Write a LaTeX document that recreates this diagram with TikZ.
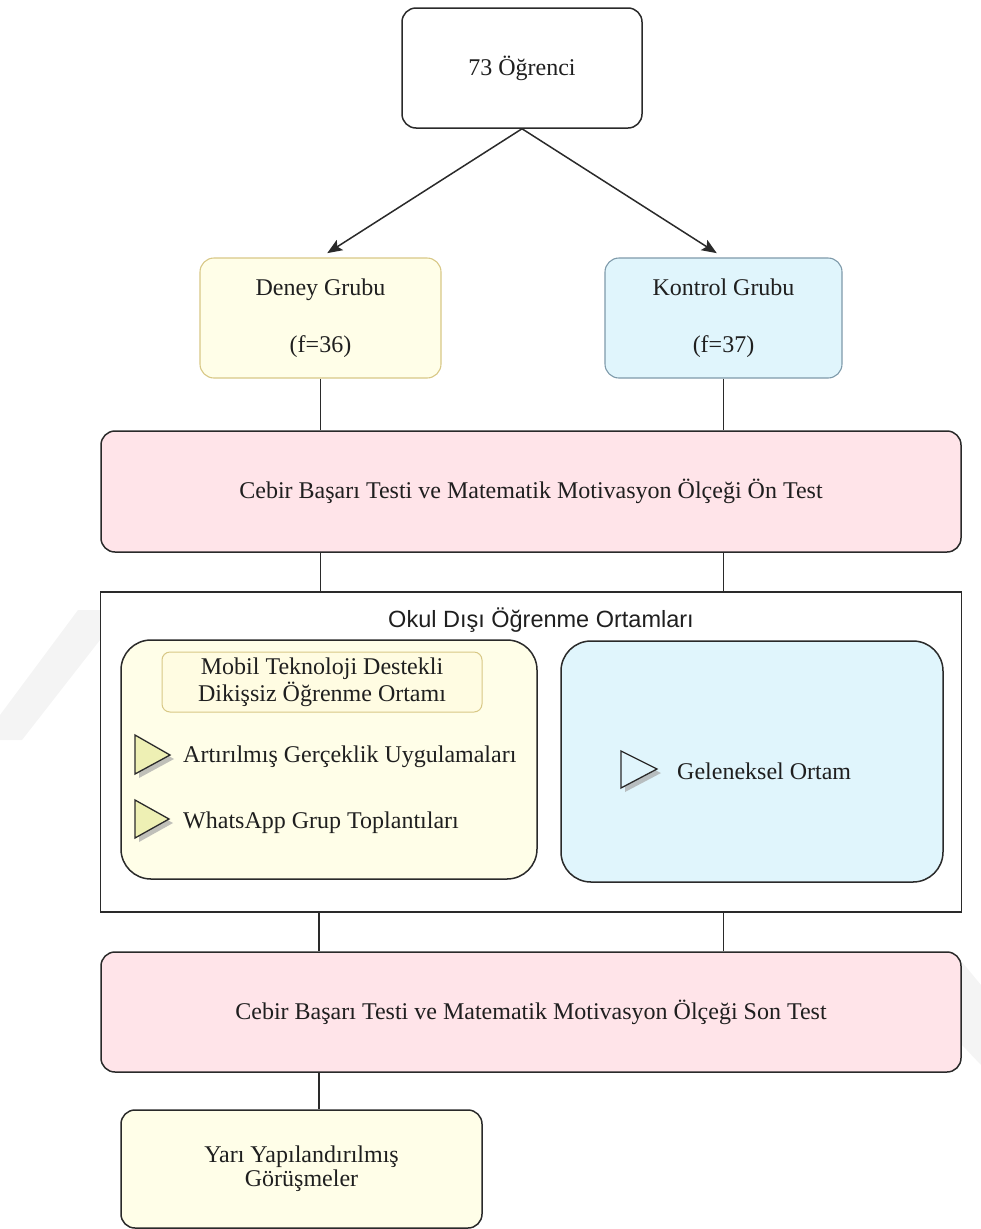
\documentclass[tikz,border=0pt]{standalone}
\usepackage{fontspec}
\setmainfont{Liberation Serif}
\newfontfamily\headfont{Liberation Sans}
\usetikzlibrary{arrows.meta}

\definecolor{ink}{HTML}{2A2A2A}
\definecolor{paleyellow}{HTML}{FFFEE8}
\definecolor{titleyellow}{HTML}{FFFCE2}
\definecolor{tanline}{HTML}{D8C886}
\definecolor{paleblue}{HTML}{E0F5FC}
\definecolor{blueline}{HTML}{7E9AAA}
\definecolor{palepink}{HTML}{FFE4E9}
\definecolor{tribody}{HTML}{EEF0B4}
\definecolor{wmark}{HTML}{F4F4F4}

\begin{document}
\begin{tikzpicture}[x=1pt,y=-1pt,
  txt/.style={font=\fontsize{24}{27}\selectfont, text=black!88},
  box/.style={draw=ink, line width=1.5pt, rounded corners=14pt, inner sep=0pt,
              align=center, txt},
  groupbox/.style={box, line width=1.1pt},
  envbox/.style={draw=ink, line width=1.5pt, rounded corners=30pt, inner sep=0pt},
  link/.style={draw=ink, line width=1.5pt},
  arrowlink/.style={link, -{Stealth[length=15pt,width=12pt,inset=3pt]}, shorten >=8pt},
  marker/.style={draw=ink, line width=1.3pt, line join=miter},
  markershadow/.style={fill=black!35, draw=none, opacity=0.7},
  item/.style={txt, anchor=west, inner sep=0pt}
]
\useasboundingbox (0,0) rectangle (981,1229);

% faint background marks
\fill[wmark] (0,715) -- (78,610) -- (100,610) -- (100,640) -- (22,740) -- (0,740) -- cycle;
\fill[wmark] (962,962) -- (981,985) -- (981,1065) -- (962,1045) -- cycle;

% sample
\node[box, fill=white, minimum width=240pt, minimum height=120pt] (top) at (522,68) {73 Öğrenci};

% groups
\node[groupbox, draw=tanline, fill=paleyellow, minimum width=241pt, minimum height=120pt,
      font=\fontsize{24}{57}\selectfont] (deney) at (320.5,318) {Deney Grubu\\(f=36)};
\node[groupbox, draw=blueline, fill=paleblue, minimum width=237pt, minimum height=120pt,
      font=\fontsize{24}{57}\selectfont] (kontrol) at (723.5,318) {Kontrol Grubu\\(f=37)};

% pre-test
\node[box, fill=palepink, minimum width=860pt, minimum height=121pt] (pretest) at (531,491.5)
  {Cebir Başarı Testi ve Matematik Motivasyon Ölçeği Ön Test};

% learning environments
\node[draw=ink, line width=1.5pt, fill=white, minimum width=861pt, minimum height=320pt,
      inner sep=0pt] (env) at (531,752) {};
\node[font=\headfont\fontsize{23.5}{27}\selectfont, text=black!88, inner sep=0pt] (envtitle)
  at (541,620) {Okul Dışı Öğrenme Ortamları};

\node[envbox, fill=paleyellow, minimum width=416pt, minimum height=239pt] (mobil) at (329,759.5) {};
\node[envbox, fill=paleblue, minimum width=382pt, minimum height=241pt] (trad) at (752,761.5) {};

\node[box, draw=tanline, line width=1pt, rounded corners=8pt, fill=titleyellow,
      minimum width=320pt, minimum height=60pt] (mobiltitle) at (322,682)
  {Mobil Teknoloji Destekli\\Dikişsiz Öğrenme Ortamı};

% list markers
\fill[markershadow] (139,739) -- (174,759) -- (139,778) -- cycle;
\filldraw[marker, fill=tribody] (135,735) -- (170,755) -- (135,774) -- cycle;
\fill[markershadow] (139,804) -- (173,823) -- (139,842) -- cycle;
\filldraw[marker, fill=tribody] (135,800) -- (169,819) -- (135,838) -- cycle;
\fill[markershadow] (625,755) -- (661,773) -- (625,792) -- cycle;
\filldraw[marker, fill=paleblue] (621,751) -- (657,769) -- (621,788) -- cycle;

\node[item] (ar) at (183,757) {Artırılmış Gerçeklik Uygulamaları};
\node[item] (wa) at (183,823) {WhatsApp Grup Toplantıları};
\node[item] (gel) at (677,771) {Geleneksel Ortam};

% post-test
\node[box, fill=palepink, minimum width=860pt, minimum height=120pt] (posttest) at (531,1012)
  {Cebir Başarı Testi ve Matematik Motivasyon Ölçeği Son Test};

% interviews
\node[box, fill=paleyellow, minimum width=361pt, minimum height=118pt,
      font=\fontsize{24}{24}\selectfont] (interview) at (301.5,1169)
  {Yarı Yapılandırılmış\\Görüşmeler};

% connectors
\draw[arrowlink] (top.south) -- (deney.north);
\draw[arrowlink] (top.south) -- (kontrol.north);
\draw[link] (deney.south) -- (deney.south |- pretest.north);
\draw[link] (kontrol.south) -- (kontrol.south |- pretest.north);
\draw[link] (pretest.south -| deney.south) -- (env.north -| deney.south);
\draw[link] (pretest.south -| kontrol.south) -- (env.north -| kontrol.south);
\coordinate (leftdrop) at (319,0);
\draw[link] (env.south -| leftdrop) -- (posttest.north -| leftdrop);
\draw[link] (env.south -| kontrol.south) -- (posttest.north -| kontrol.south);
\draw[link] (posttest.south -| leftdrop) -- (interview.north -| leftdrop);
\end{tikzpicture}
\end{document}
